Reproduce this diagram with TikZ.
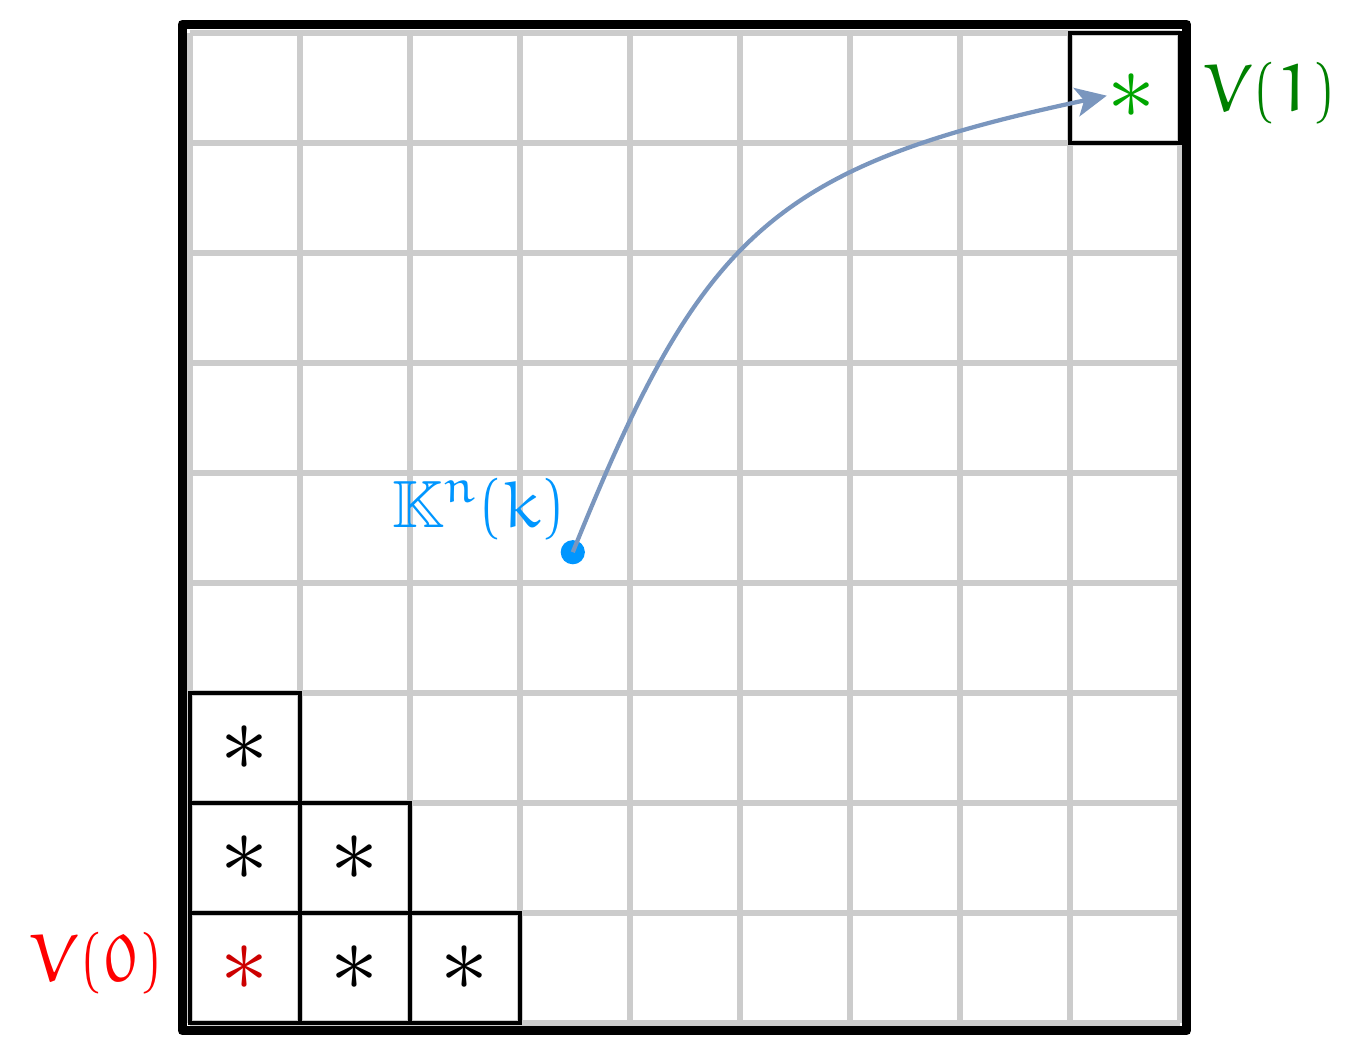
\documentclass[tikz,border=0pt]{standalone}
\usepackage{amssymb}
\usepackage{euler}
\usetikzlibrary{arrows.meta}
\definecolor{kblue}{RGB}{0,150,255}
\definecolor{arrowblue}{RGB}{122,150,190}

\begin{document}
\begin{tikzpicture}[
        cell/.style={draw, line width=1.2pt, minimum size=1cm, inner sep=0pt, outer sep=0pt, font=\Huge},
        lbl/.style={font=\LARGE}]
        \useasboundingbox (-1.727,-0.127) rectangle (10.609,9.3);

        % mřížka
        \draw[gray!40, line width=1.5pt] (0,0) grid (9,9);
        \draw[line width=2.4pt, line join=round] (-0.07,-0.07) rectangle (9.06,9.08);

        % buňky V(0)
        \node[cell] (c00) at (0.5,0.5) {$\textcolor{red!80!black}{\ast}$};
        \node[cell] (c10) at (1.5,0.5) {$\ast$};
        \node[cell] (c20) at (2.5,0.5) {$\ast$};
        \node[cell] (c01) at (0.5,1.5) {$\ast$};
        \node[cell] (c11) at (1.5,1.5) {$\ast$};
        \node[cell] (c02) at (0.5,2.5) {$\ast$};

        % buňka V(1)
        \node[cell] (c88) at (8.5,8.5) {};
        \node[font=\Huge, text=green!65!black, inner sep=0pt] (s88) at (8.56,8.43) {$\ast$};

        % popisky
        \node[lbl, text=red] (v0) at (-0.845,0.53) {$V(0)$};
        \node[lbl, text=green!50!black] (v1) at (9.82,8.44) {$V(1)$};

        % bod a šipka
        \fill[kblue] (3.48,4.28) coordinate (K) circle (0.11);
        \node[lbl, text=kblue] (kn) at (2.63,4.66) {$\mathbb{K}^n(k)$};
        \draw[arrowblue, line width=1.1pt, -{Stealth[length=8pt, width=7.5pt, inset=2pt]}]
            (K) to[out=68, in=192, looseness=1.25] (s88.west);
\end{tikzpicture}
\end{document}
